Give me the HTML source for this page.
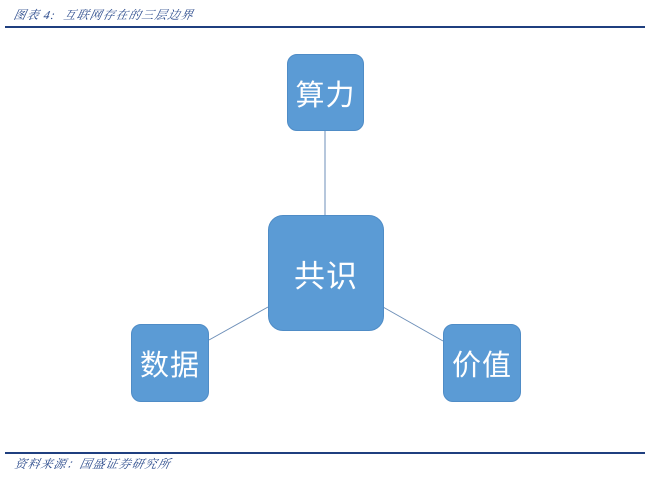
<!DOCTYPE html>
<html><head><meta charset="utf-8"><style>
body{margin:0;width:671px;height:479px;background:#fff;position:relative;overflow:hidden;font-family:"Liberation Sans","Noto Sans CJK SC",sans-serif}
.t{position:absolute;font-family:"Liberation Serif","Noto Serif CJK SC",serif;font-style:italic;font-size:12px;color:#2a4a8c;transform:skewX(-12deg);letter-spacing:1px}
.hl{position:absolute;left:5px;width:640px;height:2px;background:#1f3f7f}
.b{position:absolute;background:#5b9bd5;border:1px solid #4f8cc6;box-sizing:border-box;color:#fff;display:flex;align-items:center;justify-content:center;font-size:29px;letter-spacing:1px}
</style></head><body>
<div class="t" style="left:14px;top:6px">图表 4:&nbsp; 互联网存在的三层边界</div>
<div class="hl" style="top:26px"></div>
<div class="hl" style="top:452px"></div>
<div class="t" style="left:15px;top:455px">资料来源：国盛证券研究所</div>
<svg width="671" height="479" style="position:absolute;left:0;top:0">
<g stroke="#6d8fb8" stroke-width="1">
<line x1="325" y1="131" x2="325" y2="215"/>
<line x1="209" y1="340" x2="268" y2="307"/>
<line x1="383" y1="307" x2="443" y2="341"/>
</g></svg>
<div class="b" style="left:287px;top:54px;width:77px;height:77px;border-radius:10px">算力</div>
<div class="b" style="left:268px;top:215px;width:116px;height:116px;border-radius:15px;font-size:31px">共识</div>
<div class="b" style="left:131px;top:324px;width:78px;height:78px;border-radius:10px">数据</div>
<div class="b" style="left:443px;top:324px;width:78px;height:78px;border-radius:10px">价值</div>
</body></html>
